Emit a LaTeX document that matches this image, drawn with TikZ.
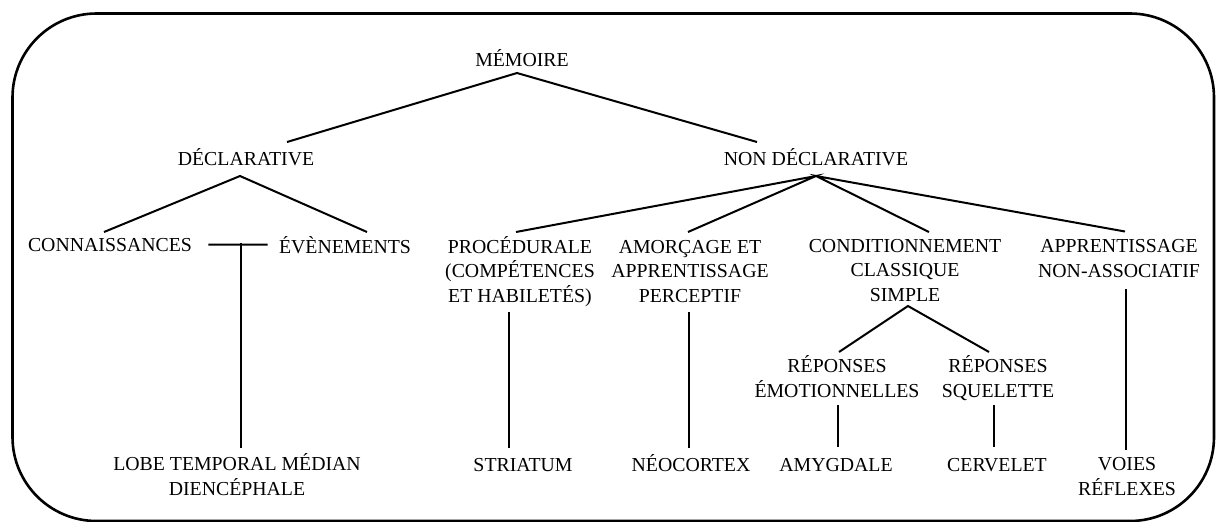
\documentclass[tikz,border=0pt]{standalone}
\usepackage{fontspec}
\setmainfont{Liberation Serif}
\usetikzlibrary{calc}

\begin{document}
\begin{tikzpicture}[x=0.5pt, y=-0.5pt,
  lbl/.style={font=\fontsize{9.9}{12.25}\selectfont, align=center, anchor=base, inner sep=0pt},
  link/.style={line width=1pt}]
  \useasboundingbox (0,0) rectangle (1216,521);
  % frame
  \draw[line width=1.3pt, rounded corners=42pt] (12.5,13.5) rectangle (1214,521);
  % top levels (nodes sit on the baseline of their last line)
  \node[lbl] (mem) at (522,66) {MÉMOIRE};
  \node[lbl] (decl) at (246,165) {DÉCLARATIVE};
  \node[lbl] (nondecl) at (816,165) {NON DÉCLARATIVE};
  % declarative side
  \node[lbl] (conn) at (110,251) {CONNAISSANCES};
  \node[lbl] (even) at (345,253) {ÉVÈNEMENTS};
  \node[lbl] (lobe) at (237,495) {LOBE TEMPORAL MÉDIAN\\DIENCÉPHALE};
  % non declarative side
  \node[lbl] (proc) at (520,302) {PROCÉDURALE\\(COMPÉTENCES\\ET HABILETÉS)};
  \node[lbl] (amorc) at (690,302) {AMORÇAGE ET\\APPRENTISSAGE\\PERCEPTIF};
  \node[lbl] (cond) at (905,301) {CONDITIONNEMENT\\CLASSIQUE\\SIMPLE};
  \node[lbl] (appr) at (1119,277) {APPRENTISSAGE\\NON-ASSOCIATIF};
  \node[lbl] (remo) at (837,397) {RÉPONSES\\ÉMOTIONNELLES};
  \node[lbl] (rsq) at (998,397) {RÉPONSES\\SQUELETTE};
  % structures
  \node[lbl] (striat) at (523,471) {STRIATUM};
  \node[lbl] (neo) at (691,471) {NÉOCORTEX};
  \node[lbl] (amyg) at (836,471) {AMYGDALE};
  \node[lbl] (cerv) at (997,471) {CERVELET};
  \node[lbl] (voies) at (1127,495) {VOIES\\RÉFLEXES};
  % links
  \draw[link] ([xshift=20.5pt,yshift=11.5pt]decl.base) -- ([xshift=-2.5pt,yshift=-3.5pt]mem.base)
    -- ([xshift=-29.5pt,yshift=11.5pt]nondecl.base);
  \draw[link] ([xshift=-3pt,yshift=9.5pt]conn.base) -- ([xshift=-3pt,yshift=-5.5pt]decl.base)
    -- ([xshift=11pt,yshift=10.5pt]even.base);
  \coordinate (tee) at (241,243);
  \draw[link] ([xshift=8pt]conn.east) -- ([xshift=-5.5pt]even.west);
  \draw[link] (tee) -- ([yshift=23.5pt]tee |- lobe.base);
  \draw[link] ([xshift=-2pt,yshift=35pt]proc.base) -- ([yshift=-5.5pt]nondecl.base)
    -- ([xshift=-1pt,yshift=35pt]amorc.base);
  \draw[link] ([xshift=12pt,yshift=34.5pt]cond.base) -- ([yshift=-5.5pt]nondecl.base)
    -- ([xshift=3pt,yshift=22.75pt]appr.base);
  \draw[link] ([xshift=-5.5pt,yshift=-5pt]proc.base) -- ([xshift=-7pt,yshift=11.5pt]striat.base);
  \draw[link] ([xshift=-0.5pt,yshift=-5pt]amorc.base) -- ([xshift=-1pt,yshift=11.5pt]neo.base);
  \draw[link] ([xshift=1pt,yshift=22.5pt]remo.base) -- ([xshift=1.5pt,yshift=-2.5pt]cond.base)
    -- ([xshift=-4.5pt,yshift=22.5pt]rsq.base);
  \draw[link] ([xshift=0.5pt,yshift=-4pt]remo.base) -- ([xshift=1pt,yshift=12pt]amyg.base);
  \draw[link] ([xshift=-2pt,yshift=-4pt]rsq.base) -- ([xshift=-1.5pt,yshift=12pt]cerv.base);
  \draw[link] ([xshift=3.5pt,yshift=-6pt]appr.base) -- ([xshift=3.5pt,yshift=22.5pt]appr.base |- voies.base);
\end{tikzpicture}
\end{document}
